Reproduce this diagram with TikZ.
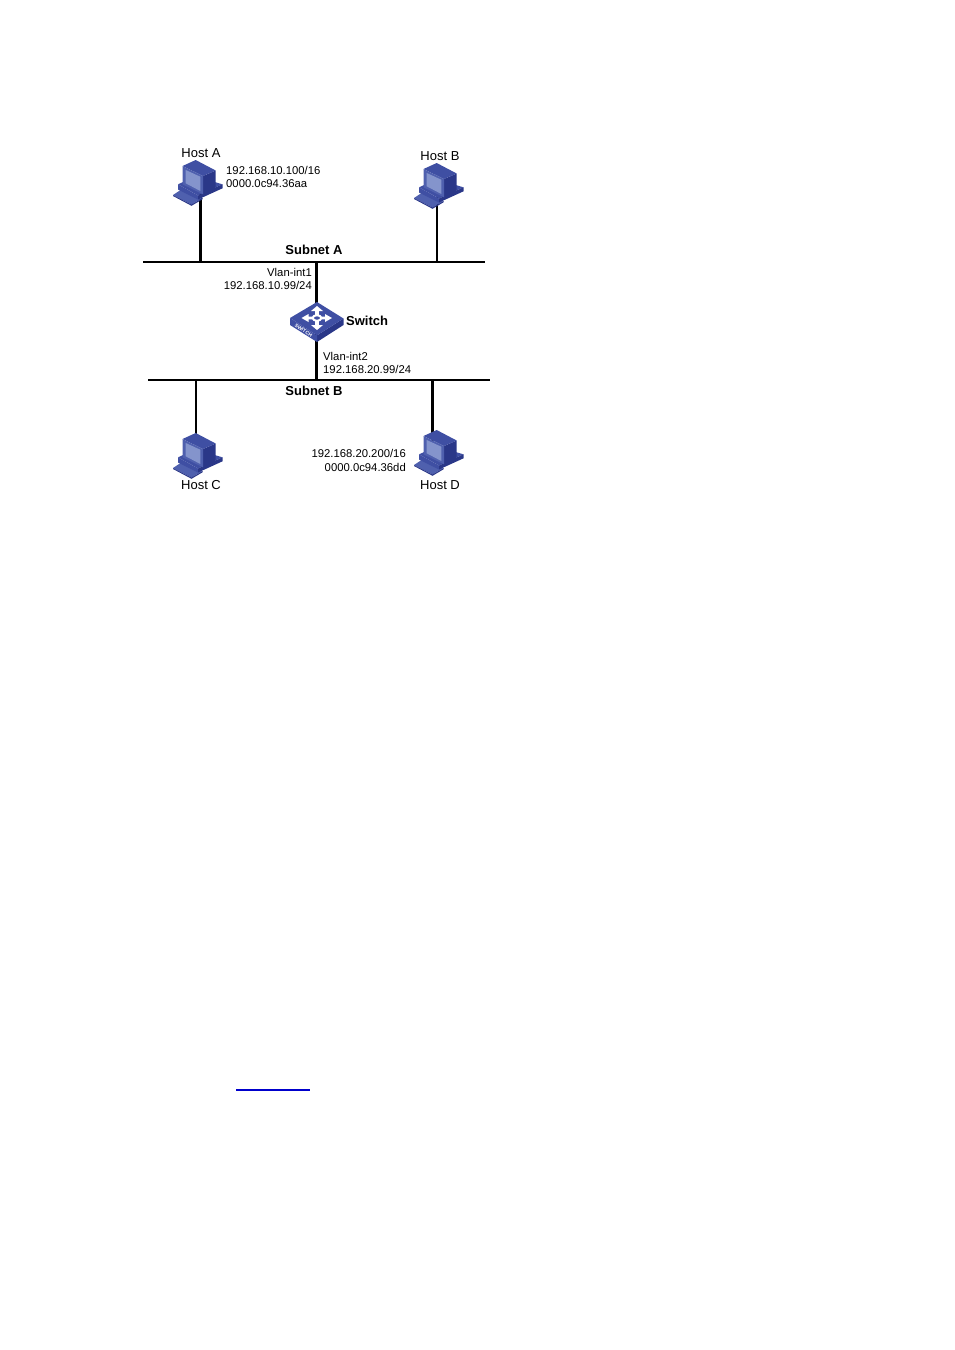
\documentclass[tikz,border=0pt]{standalone}
\usepackage{fontspec}
\setmainfont{Liberation Sans}
\usetikzlibrary{positioning}
\definecolor{pcdark}{HTML}{2A3788}
\definecolor{pcmid}{HTML}{3F4FA3}
\definecolor{pclight}{HTML}{4F60AE}
\definecolor{pcscreen}{HTML}{8494CC}
\definecolor{linkblue}{HTML}{0000CC}
\tikzset{
    bus/.style = {line width=1.8pt,black},
    linkn/.style = {line width=1.5pt,black},
    linkt/.style = {line width=3pt,black},
    hostbox/.style = {inner sep=0pt,minimum width=36pt,minimum height=40pt},
    hosttxt/.style = {inner sep=0pt,font=\fontsize{13}{15}\selectfont},
    addr/.style = {inner sep=0pt,font=\fontsize{11.3}{13.2}\selectfont},
    boldtxt/.style = {inner sep=0pt,font=\fontsize{13}{15}\selectfont\bfseries},
    hostpc/.pic = {
        % keyboard
        \fill[pclight] (-24.5,12.5) -- (-17,7.5) -- (5,15.5) -- (-6,22) -- cycle;
        \fill[pcdark] (-24.5,12.5) -- (-6,22) -- (5,15.5) -- (5,16.8) -- (-6,23.3) -- (-24.5,13.5) -- cycle;
        % base
        \fill[pcmid] (-19.5,1.8) -- (-2,-6) -- (25,1.8) -- (0.5,13) -- cycle;
        \fill[pcmid] (-19.5,1.8) -- (0.5,13) -- (0.5,17) -- (-19.5,7) -- cycle;
        \fill[pcdark] (0.5,13) -- (25,1.8) -- (25,5.8) -- (0.5,17) -- cycle;
        % monitor
        \fill[pcdark] (5.5,-6.5) -- (18.2,-12) -- (18.2,5.8) -- (5.5,11.8) -- cycle;
        \fill[pcmid] (-15,-16.5) -- (-1.8,-22.5) -- (18.2,-12) -- (5.5,-6.5) -- cycle;
        \fill[pclight] (-15,-16.5) -- (5.5,-6.5) -- (5.5,11.8) -- (-15,1.8) -- cycle;
        \fill[pcscreen] (-11.8,-12.5) -- (2.8,-5.8) -- (2.8,8.5) -- (-11.8,0.8) -- cycle;
    },
    switchbox/.pic = {
        \fill[pcdark] (0,16.8) -- (26.5,0) -- (26.5,6.5) -- (0,23.5) -- cycle;
        \fill[pcmid] (-27,-0.5) -- (0,16.8) -- (0,23.5) -- (-27,6.5) -- cycle;
        \fill[pcmid] (-27,-0.5) -- (0,-16.5) -- (26.5,0) -- (0,16.8) -- cycle;
        \draw[white,line width=2pt] (0,-0.5) circle[x radius=4.3,y radius=2.8];
        \fill[white] (0,-12.5) -- (6,-7.5) -- (1.8,-7.5) -- (1.8,-3) -- (-1.8,-3) -- (-1.8,-7.5) -- (-6,-7.5) -- cycle;
        \fill[white] (0,11.5) -- (6,6.5) -- (1.8,6.5) -- (1.8,2) -- (-1.8,2) -- (-1.8,6.5) -- (-6,6.5) -- cycle;
        \fill[white] (-15.5,-0.5) -- (-8.5,-4.5) -- (-8.5,-1.8) -- (-4,-1.8) -- (-4,0.8) -- (-8.5,0.8) -- (-8.5,3.5) -- cycle;
        \fill[white] (15,-0.5) -- (8,-4.5) -- (8,-1.8) -- (4,-1.8) -- (4,0.8) -- (8,0.8) -- (8,3.5) -- cycle;
        \node[white,rotate=-32.6,inner sep=0pt,font=\fontsize{5}{6}\selectfont\bfseries] at (-13.5,11.8) {SWITCH};
    }
}
\begin{document}
\begin{tikzpicture}[x=1pt,y=-1pt]
\useasboundingbox (0,0) rectangle (954,1350);
%
\coordinate (a1) at (143,262);
\coordinate (a2) at (485,262);
\coordinate (b1) at (148,380);
\coordinate (b2) at (490,380);
\coordinate (u1) at (236,1090);
\coordinate (u2) at (310,1090);
%
\node[hostbox] at (197.5,182.5) (hosta) {};
\node[hostbox] at (438.5,185.5) (hostb) {};
\node[hostbox] at (197.5,455.5) (hostc) {};
\node[hostbox] at (438.5,452.5) (hostd) {};
\node[inner sep=0pt,minimum width=54pt,minimum height=34pt] at (317,318.5) (sw) {};
%
\draw[bus] (a1) -- (a2);
\draw[bus] (b1) -- (b2);
\draw[linkt] (200.5,190) coordinate (la) -- (la |- a1);
\draw[linkn] (437,195) coordinate (lb) -- (lb |- a1);
\draw[linkn] (196,445) coordinate (lc) -- (lc |- b1);
\draw[linkt] (432.5,445) coordinate (ld) -- (ld |- b1);
\draw[linkt] (sw.center -| 316.5,0) coordinate (ls) -- (ls |- a1);
\draw[linkt] (ls) -- (ls |- b1);
\draw[line width=1.5pt,linkblue] (u1) -- (u2);
%
\pic at (hosta) {hostpc};
\pic at (hostb) {hostpc};
\pic at (hostc) {hostpc};
\pic at (hostd) {hostpc};
\pic at (sw) {switchbox};
%
\node[hosttxt] at (201,153.5) (ta) {Host A};
\node[hosttxt] at (440,156.5) (tb) {Host B};
\node[hosttxt] at (201,485) (tc) {Host C};
\node[hosttxt] at (440,485) (td) {Host D};
\node[boldtxt] at (314,249.5) (sa) {Subnet A};
\node[boldtxt] at (314,390.5) (sb) {Subnet B};
\node[boldtxt,anchor=west] at (346,320.5) (st) {Switch};
\node[addr,align=left,anchor=west] at (226,177) (ia) {192.168.10.100/16\\0000.0c94.36aa};
\node[addr,align=right,anchor=east] at (406,460.5) (id) {192.168.20.200/16\\0000.0c94.36dd};
\node[addr,align=right,anchor=east] at (312,279) (v1) {Vlan-int1\\192.168.10.99/24};
\node[addr,align=left,anchor=west] at (323,363) (v2) {Vlan-int2\\192.168.20.99/24};
\end{tikzpicture}
\end{document}
